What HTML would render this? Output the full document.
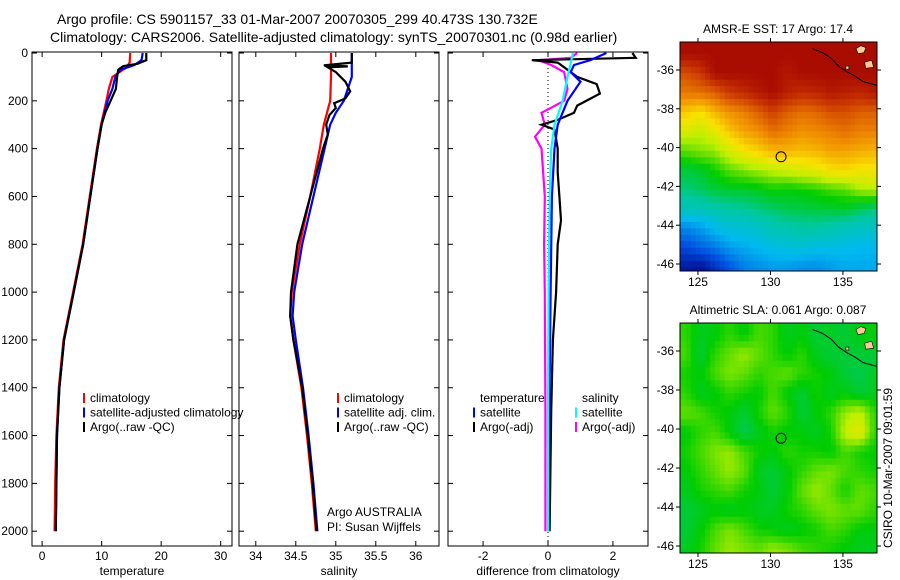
<!DOCTYPE html>
<html><head><meta charset="utf-8"><style>
body{margin:0;background:#fff;}
svg{display:block;font-family:"Liberation Sans",sans-serif;}
</style></head><body>
<svg id="c" width="900" height="580" viewBox="0 0 900 580"></svg>
<script>
// ---------- data ----------
const depthTicks=[0,200,400,600,800,1000,1200,1400,1600,1800,2000];
const tempTicks=[0,10,20,30];
const salTicks=[34,34.5,35,35.5,36];
const diffTicks=[-2,0,2];
const tClimD=[0,40,60,100,150,200,300,400,600,800,1000,1200,1400,1600,1800,2000];
const tClim=[14.8,14.7,14.2,11.8,11.2,10.8,9.9,9.2,8.0,6.8,5.2,3.6,2.8,2.4,2.2,2.1];
const tSatD=[0,30,50,70,100,150,200,300,400,600,800,1000,1200,1400,1600,1800,2000];
const tSat=[16.9,16.7,15.5,13.2,12.3,11.8,11.0,10.0,9.3,8.1,6.9,5.3,3.7,2.9,2.5,2.4,2.3];
const tArgoD=[0,30,45,55,70,100,150,200,250,300,400,600,800,1000,1200,1400,1600,1800,2000];
const tArgo=[17.5,17.5,16.0,13.6,12.8,12.6,12.4,11.5,10.6,10.0,9.3,8.1,6.9,5.3,3.7,2.9,2.5,2.4,2.3];
const sClimD=[0,100,200,250,300,400,600,800,1000,1100,1200,1400,1600,1800,2000];
const sClim=[34.94,34.94,34.93,34.89,34.85,34.80,34.68,34.55,34.45,34.43,34.47,34.57,34.64,34.70,34.75];
const sSatD=[0,100,150,200,250,300,400,600,800,1000,1100,1200,1400,1600,1800,2000];
const sSat=[35.2,35.2,35.15,35.1,35.0,34.93,34.86,34.72,34.58,34.48,34.46,34.50,34.59,34.66,34.72,34.77];
const sArgoD=[0,40,52,56,60,80,120,160,190,210,230,260,300,340,400,600,800,1000,1100,1200,1400,1600,1800,2000];
const sArgo=[35.2,35.2,34.85,35.15,34.9,35.0,35.12,35.18,35.12,34.98,35.0,34.92,34.88,34.9,34.84,34.68,34.52,34.44,34.43,34.47,34.58,34.65,34.71,34.76];
const dTArgoD=[0,20,30,40,60,100,130,170,220,250,280,300,320,400,500,600,700,800,1000,1200,1500,2000];
const dTArgo=[2.6,2.7,-0.5,0.3,0.5,0.9,1.5,1.6,0.9,0.8,0.3,-0.2,0.2,0.3,0.3,0.35,0.4,0.3,0.25,0.15,0.1,0.05];
const dTSatD=[0,30,50,80,120,200,300,400,600,1000,1500,2000];
const dTSat=[1.8,1.3,0.8,0.7,1.0,0.6,0.3,0.2,0.12,0.08,0.04,0.02];
const dSSatD=[0,100,200,300,400,600,1000,1500,2000];
const dSSat=[0.77,0.6,0.45,0.2,0.1,0.05,0.02,0.0,0.0];
const dSArgoD=[0,20,30,50,80,150,200,250,300,350,400,600,800,1000,1500,2000];
const dSArgo=[0.9,0.7,-0.3,0.1,0.5,0.6,0.5,-0.2,-0.1,-0.4,-0.2,-0.1,-0.12,-0.1,-0.08,-0.08];
// map grids: rows lat -35..-47 (1 deg), cols lon 124..137
const sstGrid=[
[19,19,19,19,19,19,19,19,19,19,19,19,19,19],
[18,18.3,19,19,19,19,19,18.8,19,19,19,19,19,19],
[17.5,17.6,17.8,18.3,18.5,18.8,19,18.7,18.5,18.6,18.8,18.7,18.6,18.8],
[16.6,16.3,16.8,17.2,17.4,17.8,18.2,17.8,17.6,17.7,18,18,17.8,17.8],
[15.8,15.6,16,16.6,17,17.2,17.6,17.4,17.2,17.3,17.4,17.6,17.4,17.4],
[15,15.2,15.3,15.8,16.2,16.5,16.8,16.8,16.7,16.8,17,17,16.9,16.8],
[14.2,14.3,14.6,15,15.2,15.4,15.6,15.7,15.9,16,16.3,16.4,16.2,16.2],
[13.8,14,14.2,14.3,14.3,14.4,14.6,14.5,14.6,14.7,14.9,15,15.4,15.5],
[13.2,13.2,13.4,13.5,13.6,13.8,13.9,14.1,14.1,14.2,14.2,14.3,14,13.8],
[11.7,12,12.5,12.8,12.8,13,13.3,13.4,13.5,13.5,13.4,13.2,13.1,13],
[10.8,11.2,11.5,12,12.2,12.4,12.6,12.7,12.8,12.6,12.6,12.5,12.4,12.4],
[10,9.8,10.4,11,11.6,11.8,12,12,11.8,11.8,12,12.2,12.2,12.2],
[10,9.6,10.2,10.8,11.4,11.6,11.8,12,11.8,11.8,12,12.2,12.2,12.2]];
const slaGrid=[
[0.08,0.05,0.06,0.08,0.06,0.09,0.08,0.05,0.06,0.04,0.05,0.04,0.06,0.06],
[0.09,0.04,0.08,0.1,0.12,0.1,0.08,0.06,0.08,0.05,0.04,0.04,0.04,0.04],
[0.07,0.06,0.09,0.11,0.1,0.08,0.09,0.1,0.08,0.07,0.06,0.04,0.03,0.05],
[0.08,0.05,0.06,0.08,0.07,0.06,0.09,0.06,0.04,0.07,0.05,0.06,0.04,0.05],
[0.1,0.09,0.07,0.06,0.04,0.07,0.1,0.08,0.04,0.06,0.08,0.12,0.14,0.08],
[0.06,0.08,0.09,0.06,0.03,0.05,0.07,0.06,0.06,0.05,0.07,0.14,0.17,0.08],
[0.07,0.09,0.11,0.12,0.09,0.07,0.06,0.08,0.07,0.07,0.06,0.09,0.07,0.06],
[0.06,0.08,0.1,0.12,0.1,0.05,0.04,0.06,0.08,0.1,0.11,0.09,0.08,0.07],
[0.05,0.07,0.08,0.09,0.07,0.06,0.04,0.06,0.1,0.12,0.1,0.07,0.1,0.09],
[0.04,0.05,0.06,0.05,0.06,0.05,0.05,0.07,0.08,0.1,0.11,0.1,0.1,0.08],
[0.04,0.06,0.09,0.11,0.09,0.07,0.06,0.05,0.06,0.07,0.09,0.08,0.06,0.06],
[0.05,0.07,0.1,0.12,0.11,0.1,0.12,0.11,0.09,0.08,0.07,0.06,0.05,0.05],
[0.05,0.07,0.1,0.12,0.11,0.1,0.12,0.11,0.09,0.08,0.07,0.06,0.05,0.05]];
const lonTicks=[125,130,135];
const latTicks=[-36,-38,-40,-42,-44,-46];
const argoPos=[130.732,-40.473];
// ---------- helpers ----------
const svg=document.getElementById('c');
const NS='http://www.w3.org/2000/svg';
function mk(tag,attrs,parent){const e=document.createElementNS(NS,tag);for(const k in attrs)e.setAttribute(k,attrs[k]);(parent||svg).appendChild(e);return e;}
function txt(s,x,y,size,anchor,parent){const t=mk('text',{x:x,y:y,'font-size':size,'text-anchor':anchor||'start',fill:'#000'},parent);t.textContent=s;return t;}
const Y=d=>53+d*0.2391;
const cmapStops=[[0,0,0,130],[0.15,0,80,225],[0.3,0,185,240],[0.42,0,200,160],[0.52,0,205,0],[0.62,190,240,0],[0.7,250,225,0],[0.8,240,140,0],[0.9,205,60,0],[1,160,0,0]];
function cmap(t){t=Math.max(0,Math.min(1,t));for(let i=1;i<cmapStops.length;i++){const a=cmapStops[i-1],b=cmapStops[i];if(t<=b[0]){const f=(t-a[0])/(b[0]-a[0]);return 'rgb('+[1,2,3].map(k=>Math.round(a[k]+(b[k]-a[k])*f)).join(',')+')';}}return 'rgb(160,0,0)';}
// titles
let t1=txt('Argo profile: CS 5901157_33 01-Mar-2007 20070305_299 40.473S 130.732E',57,24,14);

let t2=txt('Climatology: CARS2006. Satellite-adjusted climatology: synTS_20070301.nc (0.98d earlier)',50,42,14);

// ---------- profile panels ----------
function panel(name,x0,x1,vmin,vmax,xt,xlabel,series,showDepth,zeroLine){
  const g=mk('g',{});
  
  
  const X=v=>x0+(v-vmin)/(vmax-vmin)*(x1-x0);
  const top=52,bot=546;
  if(zeroLine){const zl=mk('line',{x1:X(0),x2:X(0),y1:top,y2:bot,stroke:'#000','stroke-width':1,'stroke-dasharray':'1,3'},g);}
  series.forEach(s=>{
    const pts=s.d.map((d,i)=>X(s.v[i]).toFixed(1)+','+Y(d).toFixed(1)).join(' ');
    const p=mk('polyline',{points:pts,fill:'none',stroke:s.c,'stroke-width':2.2},g);
    
  });
  const fr=mk('rect',{x:x0,y:top,width:x1-x0,height:bot-top,fill:'none',stroke:'#000','stroke-width':1},g);
  
  xt.forEach(v=>{const x=X(v);mk('line',{x1:x,x2:x,y1:bot,y2:bot-5,stroke:'#000'},g);mk('line',{x1:x,x2:x,y1:top,y2:top+5,stroke:'#000'},g);
    const l=txt(String(v),x,560,12,'middle',g);});
  depthTicks.forEach(d=>{const y=Y(d);mk('line',{x1:x0,x2:x0+5,y1:y,y2:y,stroke:'#000'},g);mk('line',{x1:x1,x2:x1-5,y1:y,y2:y,stroke:'#000'},g);
    if(showDepth){const l=txt(String(d),28,y+4,12,'end',g);}});
  const xl=txt(xlabel,(x0+x1)/2,575,12,'middle',g);
  return g;
}
panel('temperature-panel',32,232,-1.7,31.9,tempTicks,'temperature',[
 {d:tClimD,v:tClim,c:'#f00',n:'temp-climatology-line'},
 {d:tSatD,v:tSat,c:'#00f',n:'temp-satellite-line'},
 {d:tArgoD,v:tArgo,c:'#000',n:'temp-argo-line'}],true,false);
panel('salinity-panel',239,439,33.79,36.29,salTicks,'salinity',[
 {d:sClimD,v:sClim,c:'#f00',n:'sal-climatology-line'},
 {d:sSatD,v:sSat,c:'#00f',n:'sal-satellite-line'},
 {d:sArgoD,v:sArgo,c:'#000',n:'sal-argo-line'}],false,false);
panel('difference-panel',448,648,-3.08,3.08,diffTicks,'difference from climatology',[
 {d:dSArgoD,v:dSArgo,c:'#f0f',n:'diff-sal-argo-line'},
 {d:dTArgoD,v:dTArgo,c:'#000',n:'diff-temp-argo-line'},
 {d:dTSatD,v:dTSat,c:'#00f',n:'diff-temp-satellite-line'},
 {d:dSSatD,v:dSSat,c:'#0ff',n:'diff-sal-satellite-line'}],false,true);
// legends
function legend(name,x,y,items){
  const g=mk('g',{});
  items.forEach((it,i)=>{const yy=y+i*14.5;
    if(it.c){const m=mk('line',{x1:x,x2:x,y1:yy-9,y2:yy+1,stroke:it.c,'stroke-width':2},g);}
    const l=txt(it.t,x+6,yy,12,'start',g);});
}
legend('temp-legend',84,402,[{t:'climatology',c:'#f00'},{t:'satellite-adjusted climatology',c:'#00f'},{t:'Argo(..raw -QC)',c:'#000'}]);
legend('sal-legend',338,402,[{t:'climatology',c:'#f00'},{t:'satellite adj. clim.',c:'#00f'},{t:'Argo(..raw -QC)',c:'#000'}]);
legend('diff-temp-legend',474,402,[{t:'temperature'},{t:'satellite',c:'#00f'},{t:'Argo(-adj)',c:'#000'}]);
legend('diff-sal-legend',576,402,[{t:'salinity'},{t:'satellite',c:'#0ff'},{t:'Argo(-adj)',c:'#f0f'}]);
let a1=txt('Argo AUSTRALIA',327,516,12);
let a2=txt('PI: Susan Wijffels',327,531,12);
// ---------- maps ----------
function map(name,title,top,bot,grid,vmin,vmax){
  const g=mk('g',{});
  const x0=680,x1=877,lonMin=123.76,lonMax=137.35;
  const y36=top+28,y46=bot-7;
  const X=lo=>x0+(lo-lonMin)/(lonMax-lonMin)*(x1-x0);
  const Yl=la=>y36+(-36-la)/10*(y46-y36);
  const clip=mk('clipPath',{id:'cl'+name},g);mk('rect',{x:x0,y:top,width:x1-x0,height:bot-top},clip);
  const cg=mk('g',{'clip-path':'url(#cl'+name+')'},g);
  const step=1/3;
  for(let la=-34.5;la>-47.5;la-=step){for(let lo=123.5;lo<137.5;lo+=step){
    let fi=(-35-la),fj=(lo-124);fi=Math.max(0,Math.min(11.999,fi));fj=Math.max(0,Math.min(12.999,fj));
    const i=Math.floor(fi),j=Math.floor(fj),a=fi-i,b=fj-j;
    const v=(grid[i][j]*(1-a)+grid[i+1][j]*a)*(1-b)+(grid[i][j+1]*(1-a)+grid[i+1][j+1]*a)*b;
    const c=mk('rect',{x:X(lo).toFixed(1),y:Yl(la).toFixed(1),width:(step*14.5+0.6).toFixed(1),height:(step*19.3+0.6).toFixed(1),fill:cmap((v-vmin)/(vmax-vmin))},cg);
    
  }}
  const lp=mk('path',{d:`M${X(135.9)},${Yl(-34.9)} l5,-3 l5,2 l-2,5 l-6,1 z M${X(136.5)},${Yl(-35.6)} l7,-2 l2,7 l-8,1 z M${X(135.2)},${Yl(-35.8)} l3,0 l0,3 l-3,0 z`,fill:'#fcc99a',stroke:'#000','stroke-width':0.6},cg);
  
  const cl=mk('polyline',{points:[[132.9,-34.9],[133.6,-35.1],[134.2,-35.4],[134.7,-35.8],[135.3,-36.1],[135.8,-36.3],[136.4,-36.6],[137.4,-36.8]].map(p=>X(p[0])+','+Yl(p[1])).join(' '),fill:'none',stroke:'#000','stroke-width':1},cg);
  
  const ci=mk('circle',{cx:X(argoPos[0]),cy:Yl(argoPos[1]),r:5,fill:'none',stroke:'#000','stroke-width':1},g);
  
  const fr=mk('rect',{x:x0,y:top,width:x1-x0,height:bot-top,fill:'none',stroke:'#000'},g);
  
  lonTicks.forEach(lo=>{const x=X(lo);mk('line',{x1:x,x2:x,y1:bot,y2:bot+4,stroke:'#000'},g);mk('line',{x1:x,x2:x,y1:top,y2:top-4,stroke:'#000'},g);
    const l=txt(String(lo),x,bot+15,12,'middle',g);});
  latTicks.forEach(la=>{const y=Yl(la);mk('line',{x1:x0,x2:x0-4,y1:y,y2:y,stroke:'#000'},g);mk('line',{x1:x1,x2:x1+4,y1:y,y2:y,stroke:'#000'},g);
    const l=txt(String(la),674,y+4,12,'end',g);});
  const tt=txt(title,778,top-9,12,'middle',g);
}
map('sst-map','AMSR-E SST: 17 Argo: 17.4',42,271,sstGrid,9.5,19.2);
map('sla-map','Altimetric SLA: 0.061 Argo: 0.087',323,553,slaGrid,-0.30,0.40);
const side=txt('CSIRO 10-Mar-2007 09:01:59',0,0,12,'middle');
side.setAttribute('transform','translate(892,468) rotate(-90)');

</script>
</body></html>
